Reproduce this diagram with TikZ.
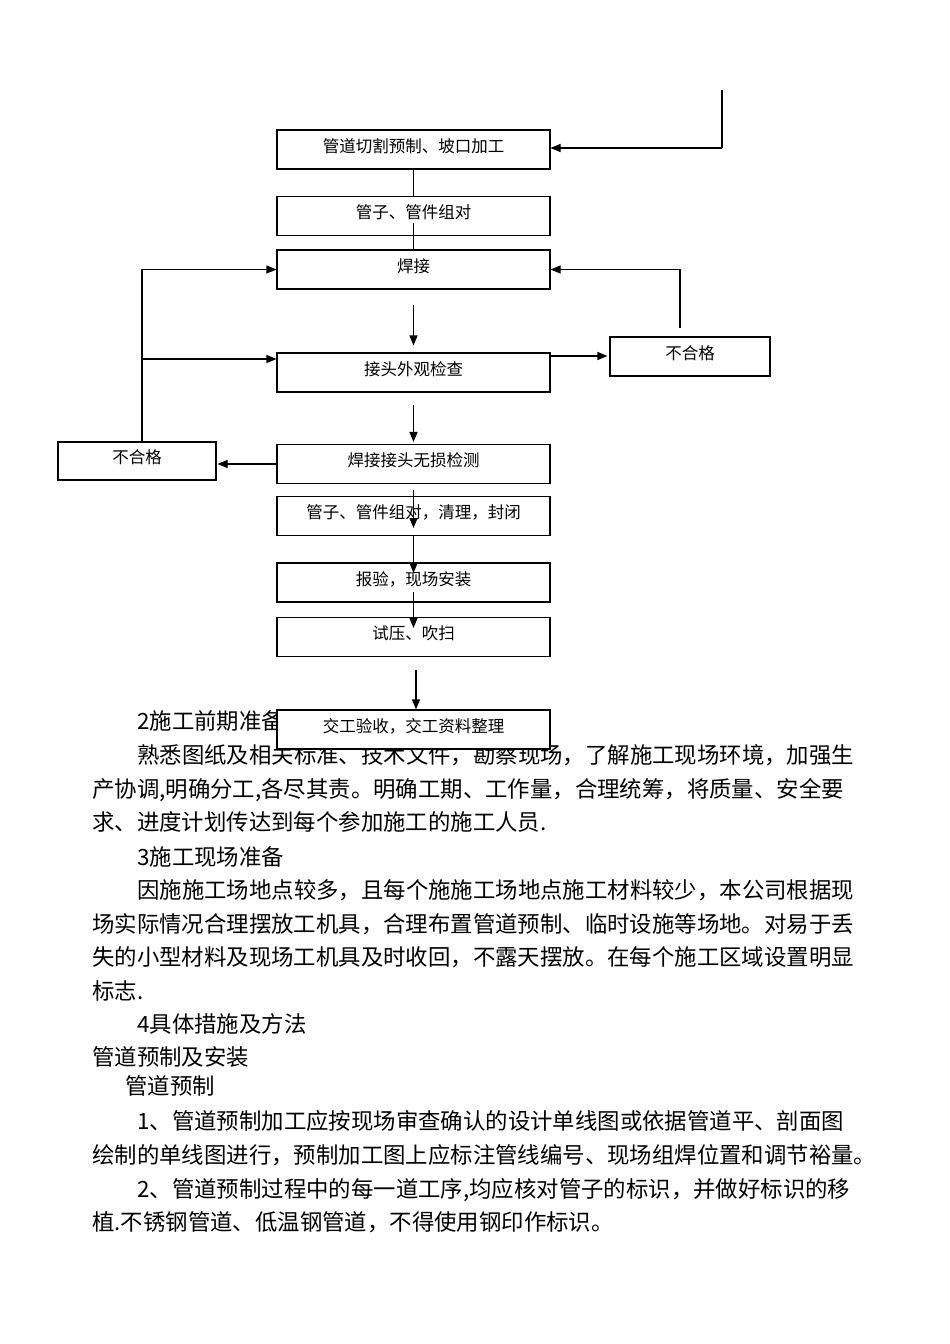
\documentclass[tikz,border=0pt]{standalone}
\usepackage{fontspec}
\setmainfont{Noto Sans CJK SC}
\usepackage{tikz}
\usetikzlibrary{arrows.meta}

\begin{document}
\begin{tikzpicture}[x=1pt,y=-1pt,
  box/.style={draw, fill=white, line width=1.1pt, minimum width=273pt, minimum height=39pt,
    inner sep=0pt, text height=12pt, text depth=7pt, font=\fontsize{16.5}{19}\selectfont},
  badbox/.style={box, minimum width=158pt, minimum height=38pt},
  ln/.style={line width=1.1pt},
  arr/.style={line width=1.1pt, -{Triangle[length=10pt,width=8pt]}},
  body/.style={anchor=base west, inner sep=0pt, font=\fontsize{22.4}{26}\selectfont}]
\useasboundingbox[fill=white] (0,0) rectangle (950,1344);
% body text
\node[body] (t1) at (137,729.5) {2施工前期准备};
\node[body] (t2) at (137,763.5) {熟悉图纸及相关标准、技术文件，勘察现场，了解施工现场环境，加强生};
\node[body] (t3) at (92,797.5) {产协调,明确分工,各尽其责。明确工期、工作量，合理统筹，将质量、安全要};
\node[body] (t4) at (92,830.5) {求、进度计划传达到每个参加施工的施工人员.};
\node[body] (t5) at (137,865.5) {3施工现场准备};
\node[body] (t6) at (137,898.5) {因施施工场地点较多，且每个施施工场地点施工材料较少，本公司根据现};
\node[body] (t7) at (92,932.5) {场实际情况合理摆放工机具，合理布置管道预制、临时设施等场地。对易于丢};
\node[body] (t8) at (92,965.5) {失的小型材料及现场工机具及时收回，不露天摆放。在每个施工区域设置明显};
\node[body] (t9) at (92,999.5) {标志.};
\node[body] (t10) at (137,1032.5) {4具体措施及方法};
\node[body] (t11) at (92,1065.5) {管道预制及安装};
\node[body] (t12) at (125,1094.5) {管道预制};
\node[body] (t13) at (137,1129.5) {1、管道预制加工应按现场审查确认的设计单线图或依据管道平、剖面图};
\node[body] (t14) at (92,1163.5) {绘制的单线图进行，预制加工图上应标注管线编号、现场组焊位置和调节裕量。};
\node[body] (t15) at (137,1197.5) {2、管道预制过程中的每一道工序,均应核对管子的标识，并做好标识的移};
\node[body] (t16) at (92,1230.5) {植.不锈钢管道、低温钢管道，不得使用钢印作标识。};
% flow boxes
\node[box] (b1) at (413.5,149.5) {管道切割预制、坡口加工};
\node[box] (b2) at (413.5,216) {管子、管件组对};
\node[box] (b3) at (413.5,269.5) {焊接};
\node[box] (b4) at (413.5,372.5) {接头外观检查};
\node[box] (b5) at (413.5,464) {焊接接头无损检测};
\node[box] (b6) at (413.5,516) {管子、管件组对，清理，封闭};
\node[box] (b7) at (413.5,582.5) {报验，现场安装};
\node[box] (b8) at (413.5,637) {试压、吹扫};
\node[box] (b9) at (413.5,729.5) {交工验收，交工资料整理};
\node[badbox, minimum width=160pt, minimum height=39pt] (nr) at (690,356.5) {不合格};
\node[badbox] (nl) at (137,461) {不合格};
% connectors
\coordinate (tin) at (722,90);
\coordinate (tturn) at (722,148);
\draw[ln] (tin) -- (tturn);
\draw[arr] (tturn) -- (tturn -| b1.east);
\draw[ln] (b1.south) -- (b2.north);
\coordinate (b2low) at (413.5,223);
\draw[ln] (b2low) -- (b3.north);
\coordinate (b3out) at (413.5,305);
\draw[arr, shorten >=7pt] (b3out) -- (b4.north);
\coordinate (b4r) at (550,356);
\draw[arr, shorten >=2pt] (b4r) -- (b4r -| nr.west);
\coordinate (nrup) at (680,328);
\draw[arr] (nrup) |- (b3.east);
\coordinate (nlup) at (142,442);
\draw[arr] (nlup) |- (b3.west);
\coordinate (br) at (142,359);
\draw[arr] (br) -- (br -| b4.west);
\coordinate (b4out) at (413.5,405);
\draw[arr, shorten >=2pt] (b4out) -- (b5.north);
\draw[arr, shorten >=1pt] (b5.west) -- (b5.west -| nl.east);
\coordinate (c1) at (413.5,490);
\coordinate (c2) at (413.5,528);
\coordinate (c3) at (413.5,535);
\coordinate (c4) at (413.5,573);
\coordinate (c5) at (413.5,592);
\coordinate (c6) at (413.5,628);
\coordinate (c7) at (416,670);
\draw[arr] (c1) -- (c2);
\draw[arr] (c3) -- (c4);
\draw[arr] (c5) -- (c6);
\draw[arr] (c7) -- (c7 |- b9.north);
\end{tikzpicture}
\end{document}
